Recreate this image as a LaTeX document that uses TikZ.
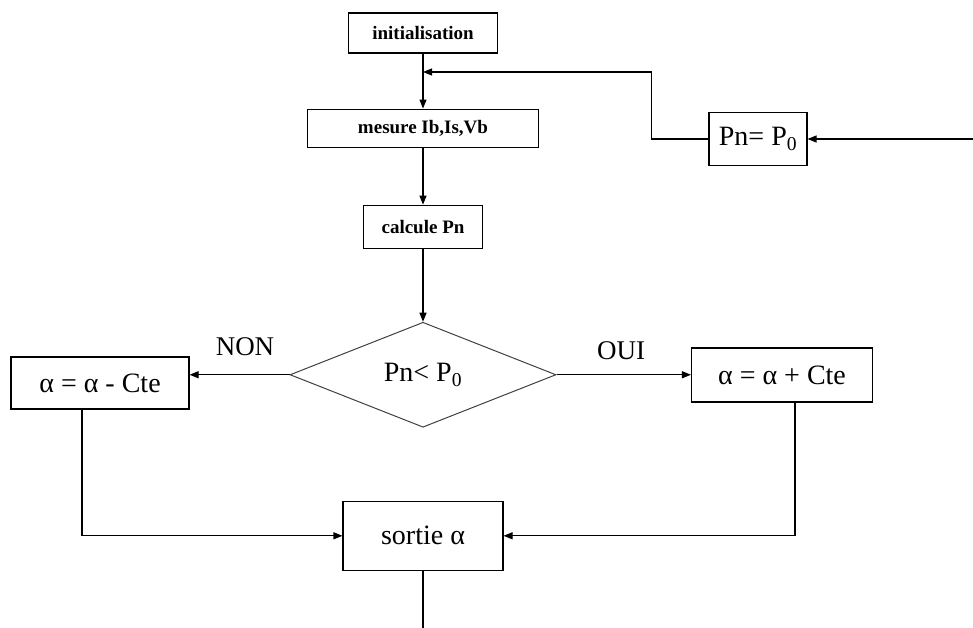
\documentclass[tikz,border=0pt]{standalone}
\usepackage{fontspec}
\setmainfont{Liberation Serif}
\usetikzlibrary{arrows.meta, positioning, shapes.geometric}

\begin{document}
\begin{tikzpicture}[
  x=1pt, y=-1pt,
  box/.style={draw, line width=1.1pt, inner sep=0pt, fill=white},
  stepbox/.style={box, font=\fontsize{19}{21}\selectfont\bfseries},
  valbox/.style={box, font=\fontsize{28}{30}\selectfont},
  decision/.style={draw=black!75, line width=1pt, diamond, minimum width=266pt, minimum height=105pt, inner sep=0pt, font=\fontsize{28}{30}\selectfont},
  lbl/.style={font=\fontsize{27}{29}\selectfont},
  arr/.style={-{Triangle[length=9pt,width=7pt]}, line width=1.1pt}
]
\useasboundingbox (0,0) rectangle (973,628);

\node[stepbox, minimum width=149pt, minimum height=40pt] (init) at (423,33) {initialisation};
\node[stepbox, minimum width=231pt, minimum height=38pt, below=55pt of init] (mes) {mesure Ib,Is,Vb};
\node[stepbox, minimum width=119pt, minimum height=43pt, below=57pt of mes] (calc) {calcule Pn};
\node[decision, below=73pt of calc] (test) {Pn< P\textsubscript{0}};
\node[valbox, minimum width=160pt, minimum height=69pt, below=73pt of test] (sortie) {sortie α};
\node[valbox, minimum width=178pt, minimum height=52pt] (moins) at (100,383) {α = α - Cte};
\node[valbox, minimum width=181pt, minimum height=54pt] (plus) at (782,375) {α = α + Cte};
\node[valbox, minimum width=98pt, minimum height=53pt] (pzero) at (758,139) {Pn= P\textsubscript{0}};

\node[lbl] (non) at (245,347) {NON};
\node[lbl] (oui) at (621,351) {OUI};

\coordinate (merge) at (423,72);
\coordinate (entree) at (973,139);
\coordinate (fin) at (423,628);

\draw[arr] (init) -- (mes);
\draw[arr] (mes) -- (calc);
\draw[arr] (calc) -- (test);
\draw[arr] (test.west) -- (test.west -| moins.east);
\draw[arr] (test.east) -- (test.east -| plus.west);
\draw[arr] ([xshift=-18pt]moins.south) |- (sortie.west);
\draw[arr] ([xshift=13pt]plus.south) |- (sortie.east);
\draw[line width=1.1pt] (sortie) -- (fin);
\draw[arr] (entree) -- (pzero.east);
\draw[arr] (pzero.west) -- ++(-57,0) |- (merge);
\end{tikzpicture}
\end{document}
